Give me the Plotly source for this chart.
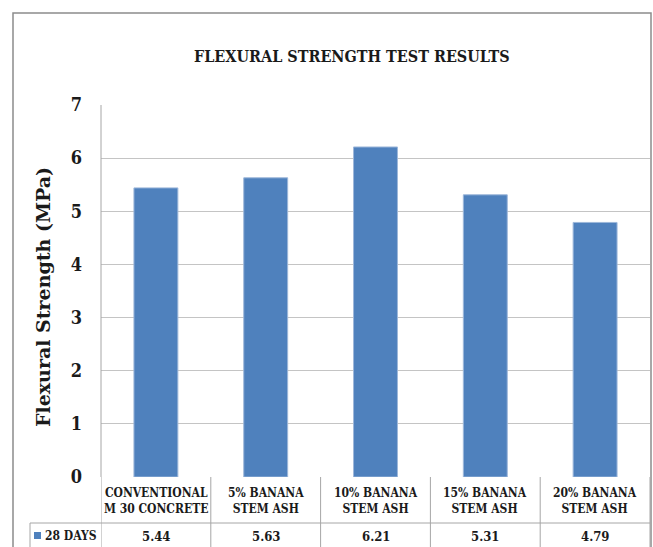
import plotly.graph_objects as go

categories = ["CONVENTIONAL<br>M 30 CONCRETE", "5% BANANA<br>STEM ASH", "10% BANANA<br>STEM ASH",
              "15% BANANA<br>STEM ASH", "20% BANANA<br>STEM ASH"]
series_name = "28 DAYS"
values = [5.44, 5.63, 6.21, 5.31, 4.79]
value_labels = ["5.44", "5.63", "6.21", "5.31", "4.79"]
y_ticks = [0, 1, 2, 3, 4, 5, 6, 7]

FONT = "DejaVu Serif Condensed"
FONT2 = "DejaVu Serif"
BLUE = "#4F81BD"
TXT = "#1a1a1a"

W, H = 653, 547
L, R, T, B = 101, 3, 105, 70
pw, ph = W - L - R, H - T - B

def px_x(p):
    return (p - L) / pw

def px_y(p):
    return (H - B - p) / ph

xs = list(range(len(categories)))

fig = go.Figure()
fig.add_trace(go.Bar(x=xs, y=values, name=series_name,
                     marker=dict(color=BLUE, line=dict(color="#9DB7DA", width=1)), width=0.4))

shapes = []
# outer frame
shapes.append(dict(type="rect", xref="paper", yref="paper", x0=px_x(13), x1=px_x(651), y0=px_y(570), y1=px_y(13),
                   line=dict(color="#8C8C8C", width=1.5), fillcolor="rgba(0,0,0,0)", layer="below"))
# table lines
tc = "#A6A6A6"
shapes.append(dict(type="line", xref="paper", yref="paper", x0=px_x(30), x1=1, y0=px_y(523), y1=px_y(523),
                   line=dict(color=tc, width=1)))
shapes.append(dict(type="line", xref="paper", yref="paper", x0=px_x(30), x1=px_x(30), y0=px_y(523), y1=px_y(570),
                   line=dict(color=tc, width=1)))
for i in range(len(categories) + 1):
    xb = i - 0.5
    shapes.append(dict(type="line", xref="x", yref="paper", x0=xb, x1=xb, y0=0, y1=px_y(570),
                       line=dict(color=tc, width=1)))
shapes.append(dict(type="line", xref="paper", yref="paper", x0=0, x1=0, y0=0, y1=1, line=dict(color=tc, width=1)))
# legend key
shapes.append(dict(type="rect", xref="paper", yref="paper", x0=px_x(34), x1=px_x(41), y0=px_y(539), y1=px_y(532),
                   line=dict(width=0), fillcolor=BLUE))

annotations = []
annotations.append(dict(text="<b>FLEXURAL STRENGTH TEST RESULTS</b>", xref="paper", yref="paper",
                        x=px_x(352), y=px_y(57), showarrow=False, font=dict(family=FONT, size=16, color=TXT),
                        xanchor="center", yanchor="middle"))
annotations.append(dict(text="<b>Flexural Strength (MPa)</b>", xref="paper", yref="paper",
                        x=px_x(43), y=px_y(297), showarrow=False, textangle=-90,
                        font=dict(family=FONT2, size=19, color=TXT), xanchor="center", yanchor="middle"))
for i, c in enumerate(categories):
    annotations.append(dict(text="<b>" + c + "</b>", x=i, xref="x", yref="paper", y=px_y(501), showarrow=False,
                            font=dict(family=FONT, size=12, color=TXT), xanchor="center", yanchor="middle"))
    annotations.append(dict(text="<b>" + value_labels[i] + "</b>", x=i, xref="x", yref="paper", y=px_y(536),
                            showarrow=False, font=dict(family=FONT, size=13, color=TXT),
                            xanchor="center", yanchor="middle"))
annotations.append(dict(text="<b>" + series_name + "</b>", xref="paper", yref="paper", x=px_x(43), y=px_y(536),
                        showarrow=False, font=dict(family=FONT, size=12, color=TXT), xanchor="left", yanchor="middle"))

fig.update_layout(
    width=W, height=H, margin=dict(l=L, r=R, t=T, b=B),
    paper_bgcolor="white", plot_bgcolor="white", showlegend=False,
    shapes=shapes, annotations=annotations,
    xaxis=dict(range=[-0.5, len(categories) - 0.5], showticklabels=False, showgrid=False, zeroline=False,
               showline=False, ticks=""),
    yaxis=dict(range=[0, 7], tickvals=y_ticks, showgrid=True, gridcolor="#C4C4C4", gridwidth=1, zeroline=False,
               showline=False, ticks="", ticklabelstandoff=18,
               tickfont=dict(family=FONT, size=18, color=TXT, weight="bold")),
    font=dict(family=FONT),
)

fig.write_html("out.html", config={"displayModeBar": False},
               post_script="document.body.style.margin='0px';document.body.style.overflow='hidden';")
